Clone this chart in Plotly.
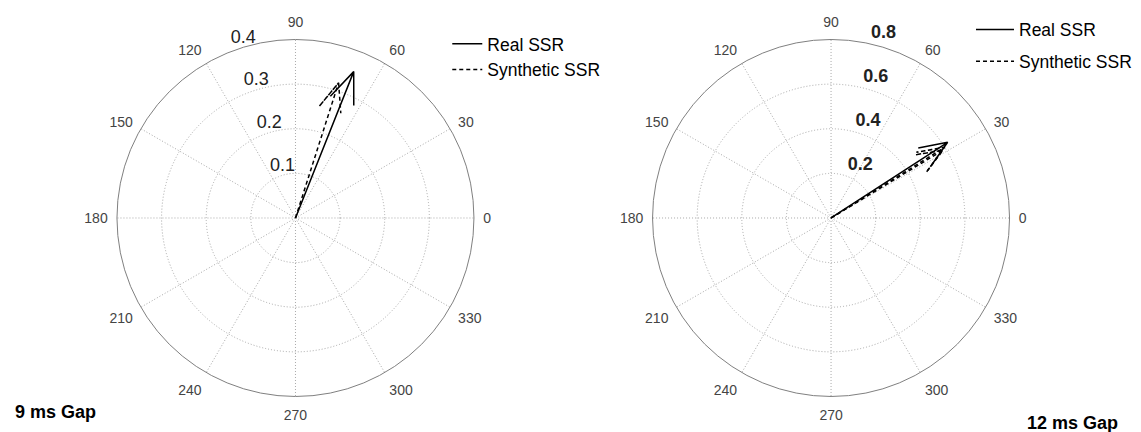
import numpy as np
import plotly.graph_objects as go

# angle tick labels (degrees) and radial rings for both panels
angle_ticks = list(range(0, 360, 30))
left_rings = [0.1, 0.2, 0.3, 0.4]
right_rings = [0.2, 0.4, 0.6, 0.8]

# 9 ms gap: SSR vectors (magnitude, angle in degrees)
left_real_mag = [0.353]
left_real_ang = [68.3]
left_syn_mag = [0.318]
left_syn_ang = [72.3]

# 12 ms gap
right_real_mag = [0.623]
right_real_ang = [33.0]
right_syn_mag = [0.600, 0.586]
right_syn_ang = [31.9, 31.2]

FONT = "Liberation Sans, Arial, sans-serif"


def compass(mags, angs):
    # matlab-style compass arrow: shaft + two barbs at 0.8*z +/- 0.08*i*z
    r, t = [], []
    rb_f = np.hypot(0.8, 0.08)
    db = np.degrees(np.arctan2(0.08, 0.8))
    for m, a in zip(mags, angs):
        r += [0, m, m * rb_f, m, m * rb_f, None]
        t += [a, a, a + db, a, a - db, None]
    return r, t


def polar_layout(domx, domy, rmax, rings):
    return dict(
        domain=dict(x=domx, y=domy),
        bgcolor="white",
        radialaxis=dict(
            range=[0, rmax],
            tickvals=rings,
            showticklabels=False,
            ticks="",
            showline=False,
            gridcolor="#a8a8a8",
            griddash="1px,2px",
            gridwidth=1,
        ),
        angularaxis=dict(
            direction="counterclockwise",
            rotation=0,
            tickmode="array",
            tickvals=angle_ticks,
            ticktext=[str(a) for a in angle_ticks],
            ticks="outside",
            ticklen=6,
            tickcolor="rgba(0,0,0,0)",
            showline=True,
            linecolor="#808080",
            linewidth=1,
            gridcolor="#a8a8a8",
            griddash="1px,2px",
            tickfont=dict(size=14, color="#444", family=FONT),
        ),
    )


fig = go.Figure()

# left panel
r, t = compass(left_real_mag, left_real_ang)
fig.add_trace(go.Scatterpolar(r=r, theta=t, mode="lines", name="Real SSR",
                              line=dict(color="black", width=1.5),
                              subplot="polar", legend="legend"))
r, t = compass(left_syn_mag, left_syn_ang)
fig.add_trace(go.Scatterpolar(r=r, theta=t, mode="lines", name="Synthetic SSR",
                              line=dict(color="black", width=1.5, dash="4px,3px"),
                              subplot="polar", legend="legend"))
fig.add_trace(go.Scatterpolar(r=left_rings, theta=[107] * len(left_rings), mode="text",
                              text=[str(v) for v in left_rings], textposition="top center",
                              textfont=dict(size=18, color="#222", family=FONT),
                              cliponaxis=False, showlegend=False, subplot="polar"))

# right panel
r, t = compass(right_real_mag, right_real_ang)
fig.add_trace(go.Scatterpolar(r=r, theta=t, mode="lines", name="Real SSR",
                              line=dict(color="black", width=1.5),
                              subplot="polar2", legend="legend2", legendgroup="a"))
r, t = compass(right_syn_mag, right_syn_ang)
fig.add_trace(go.Scatterpolar(r=r, theta=t, mode="lines", name="Synthetic SSR",
                              line=dict(color="black", width=1.5, dash="4px,3px"),
                              subplot="polar2", legend="legend2", legendgroup="b"))
fig.add_trace(go.Scatterpolar(r=right_rings, theta=[80] * len(right_rings), mode="text",
                              text=["\u2002" + str(v) for v in right_rings], textposition="top right",
                              textfont=dict(size=18, color="#222", family=FONT, weight="bold"),
                              cliponaxis=False, showlegend=False, subplot="polar2"))

fig.update_layout(
    width=1141,
    height=432,
    margin=dict(l=0, r=0, t=0, b=0),
    paper_bgcolor="white",
    font=dict(family=FONT, color="black"),
    polar=polar_layout([0.1025, 0.4154], [0.0822, 0.9086], 0.4, left_rings),
    polar2=polar_layout([0.5719, 0.8848], [0.0822, 0.9086], 0.8, right_rings),
    legend=dict(x=0.392, y=0.94, xanchor="left", yanchor="top",
                font=dict(size=17.5, family=FONT), bgcolor="rgba(0,0,0,0)", itemwidth=30),
    legend2=dict(x=0.851, y=0.973, xanchor="left", yanchor="top",
                 font=dict(size=17.5, family=FONT), bgcolor="rgba(0,0,0,0)", itemwidth=38,
                 traceorder="grouped", tracegroupgap=6),
    annotations=[
        dict(text="<b>9 ms Gap</b>", x=0.0114, y=0.046, xref="paper", yref="paper",
             xanchor="left", yanchor="middle", showarrow=False, font=dict(size=18)),
        dict(text="<b>12 ms Gap</b>", x=0.8983, y=0.021, xref="paper", yref="paper",
             xanchor="left", yanchor="middle", showarrow=False, font=dict(size=18)),
    ],
)

# drop the default 8px body margin so the figure sits at the page corner
fig.write_html("out.html", config={"displayModeBar": False},
               post_script="document.body.style.margin='0';")
